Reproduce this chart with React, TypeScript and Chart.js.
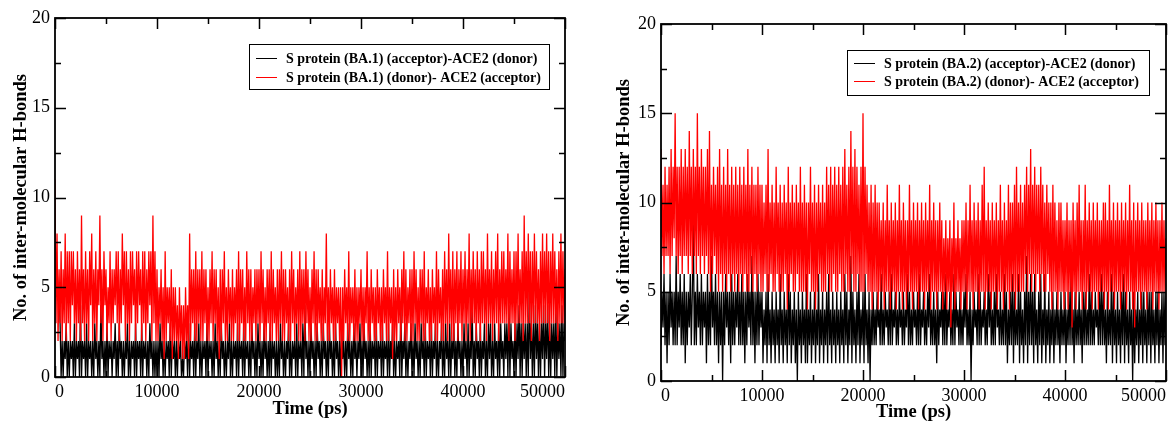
import React, { useEffect, useRef } from "react";
import { Chart, registerables } from "chart.js";

Chart.register(...registerables);

// ---- data (H-bond counts sampled every STEP_PS picoseconds, 20 samples per row) ----
const STEP_PS = 100;
const X_MAX = 50000;
const Y_MAX = 20;

const BA1_ACCEPTOR_ACE2_DONOR = [
  6, 5, 6, 5, 5, 3, 0, 2, 0, 2, 1, 3, 0, 2, 0, 2, 1, 2, 0, 3,
  0, 2, 1, 2, 0, 4, 0, 2, 1, 2, 0, 3, 0, 2, 1, 2, 0, 2, 0, 3,
  1, 2, 0, 2, 0, 4, 1, 2, 0, 2, 0, 3, 0, 2, 1, 2, 0, 2, 1, 3,
  0, 2, 0, 3, 1, 2, 0, 2, 0, 2, 1, 3, 0, 2, 0, 2, 1, 2, 0, 3,
  0, 2, 1, 2, 0, 3, 0, 2, 1, 2, 0, 2, 0, 3, 1, 2, 0, 2, 0, 2,
  0, 2, 0, 3, 1, 2, 0, 2, 0, 2, 1, 2, 0, 3, 0, 2, 1, 2, 0, 2,
  0, 2, 1, 2, 0, 1, 0, 2, 1, 2, 0, 3, 0, 2, 1, 2, 0, 3, 0, 2,
  1, 3, 0, 2, 0, 2, 1, 2, 0, 3, 0, 2, 1, 2, 0, 2, 0, 3, 1, 2,
  0, 2, 0, 3, 1, 2, 0, 2, 0, 2, 1, 3, 0, 2, 0, 2, 1, 2, 0, 3,
  0, 2, 1, 2, 0, 3, 0, 2, 1, 2, 0, 2, 0, 3, 1, 2, 0, 2, 0, 3,
  1, 2, 0, 2, 0, 3, 1, 2, 0, 2, 0, 3, 0, 2, 1, 2, 0, 2, 0, 2,
  0, 3, 1, 2, 0, 2, 0, 2, 1, 3, 0, 2, 0, 2, 1, 2, 0, 3, 0, 2,
  1, 2, 0, 3, 0, 4, 1, 2, 0, 2, 0, 3, 1, 2, 0, 2, 0, 3, 1, 2,
  0, 2, 0, 3, 1, 2, 0, 2, 0, 3, 1, 2, 0, 2, 0, 3, 1, 2, 0, 2,
  0, 3, 1, 2, 0, 2, 0, 3, 1, 2, 0, 2, 0, 3, 1, 2, 0, 2, 1, 3,
  0, 2, 0, 3, 1, 2, 0, 2, 0, 3, 0, 2, 1, 2, 0, 3, 0, 2, 1, 2,
  0, 3, 0, 2, 1, 2, 0, 3, 0, 2, 1, 3, 0, 2, 0, 2, 1, 2, 0, 4,
  0, 2, 1, 3, 0, 2, 0, 2, 1, 3, 0, 2, 0, 3, 1, 2, 0, 2, 0, 3,
  1, 2, 0, 3, 0, 2, 1, 2, 0, 3, 0, 2, 1, 3, 0, 2, 0, 2, 1, 3,
  0, 2, 0, 3, 1, 2, 0, 3, 0, 2, 1, 3, 0, 2, 0, 3, 1, 2, 0, 2,
  0, 3, 1, 2, 0, 3, 0, 2, 1, 4, 0, 2, 0, 3, 1, 2, 0, 3, 0, 2,
  1, 3, 0, 2, 0, 3, 1, 3, 0, 2, 0, 3, 1, 2, 0, 3, 0, 3, 1, 2,
  0, 3, 1, 3, 0, 4, 0, 3, 1, 2, 0, 3, 0, 3, 1, 4, 0, 3, 0, 3,
  1, 3, 0, 3, 0, 5, 1, 3, 0, 3, 0, 4, 1, 3, 0, 3, 0, 3, 1, 4,
  0, 3, 1, 4, 0, 3, 0, 3, 1, 3, 0, 4, 0, 3, 1, 3, 0, 4, 0, 3,
  2,
];

const BA1_DONOR_ACE2_ACCEPTOR = [
  11, 3, 8, 2, 6, 3, 7, 2, 6, 3, 8, 2, 7, 3, 7, 2, 7, 4, 7, 3,
  6, 2, 7, 3, 6, 2, 9, 3, 6, 2, 7, 3, 6, 2, 7, 4, 8, 2, 6, 3,
  7, 2, 6, 4, 9, 3, 6, 2, 7, 4, 6, 2, 5, 3, 7, 2, 6, 3, 6, 4,
  7, 3, 7, 2, 6, 3, 8, 4, 7, 2, 7, 3, 6, 2, 7, 3, 7, 4, 6, 2,
  7, 3, 7, 4, 6, 2, 7, 3, 7, 2, 6, 3, 7, 4, 7, 2, 9, 3, 7, 2,
  6, 2, 5, 3, 6, 2, 5, 1, 7, 2, 5, 3, 5, 2, 6, 1, 5, 2, 5, 2,
  4, 1, 5, 2, 4, 1, 4, 1, 5, 2, 4, 1, 8, 2, 6, 3, 6, 2, 7, 2,
  6, 3, 6, 2, 7, 2, 6, 3, 6, 2, 5, 2, 6, 3, 7, 2, 6, 3, 6, 2,
  5, 1, 6, 2, 6, 3, 7, 2, 5, 2, 6, 3, 5, 2, 6, 2, 5, 3, 6, 2,
  7, 2, 6, 3, 6, 2, 5, 2, 7, 3, 6, 2, 6, 2, 5, 3, 6, 2, 6, 3,
  6, 2, 7, 3, 6, 2, 5, 2, 6, 3, 6, 2, 7, 2, 6, 3, 5, 2, 6, 2,
  6, 3, 7, 2, 6, 2, 6, 3, 5, 2, 6, 2, 7, 3, 6, 2, 5, 3, 6, 2,
  7, 2, 6, 3, 6, 2, 7, 3, 6, 2, 5, 2, 6, 3, 7, 2, 6, 2, 6, 3,
  5, 2, 6, 2, 5, 3, 8, 2, 5, 2, 6, 3, 5, 2, 6, 2, 5, 3, 5, 2,
  5, 0, 5, 2, 6, 3, 5, 2, 7, 2, 5, 3, 5, 2, 6, 2, 5, 2, 5, 3,
  6, 2, 5, 2, 5, 3, 7, 2, 5, 2, 6, 3, 5, 2, 5, 2, 6, 3, 5, 2,
  5, 2, 6, 3, 5, 2, 7, 2, 5, 3, 5, 1, 6, 2, 5, 2, 6, 3, 5, 2,
  6, 3, 7, 2, 6, 2, 5, 3, 6, 2, 6, 2, 7, 3, 6, 2, 5, 2, 6, 3,
  6, 2, 7, 2, 5, 3, 6, 2, 5, 2, 6, 3, 5, 2, 7, 2, 6, 3, 5, 2,
  6, 2, 7, 3, 6, 2, 8, 3, 6, 2, 7, 2, 6, 3, 7, 2, 6, 3, 7, 2,
  6, 3, 7, 2, 6, 3, 8, 2, 6, 3, 7, 3, 6, 2, 7, 3, 6, 2, 7, 3,
  7, 3, 6, 2, 8, 3, 6, 3, 7, 2, 6, 3, 7, 3, 8, 2, 6, 3, 7, 3,
  7, 3, 6, 3, 8, 2, 7, 3, 6, 3, 7, 2, 7, 3, 8, 3, 6, 3, 7, 2,
  9, 3, 7, 3, 8, 3, 7, 2, 7, 3, 8, 3, 7, 3, 6, 2, 7, 3, 8, 3,
  7, 3, 8, 3, 7, 2, 7, 3, 8, 3, 7, 3, 6, 2, 7, 3, 8, 3, 7, 3,
  6,
];

const BA2_ACCEPTOR_ACE2_DONOR = [
  2, 5, 3, 6, 2, 5, 1, 5, 2, 6, 3, 5, 2, 5, 2, 7, 2, 5, 3, 6,
  2, 5, 2, 6, 1, 5, 2, 5, 3, 6, 2, 5, 9, 2, 5, 2, 6, 3, 5, 2,
  6, 2, 5, 3, 5, 1, 6, 2, 5, 2, 7, 3, 5, 2, 6, 2, 5, 1, 5, 2,
  5, 0, 5, 2, 6, 3, 5, 2, 5, 1, 6, 2, 5, 2, 5, 3, 6, 2, 5, 2,
  6, 2, 5, 1, 5, 2, 6, 3, 5, 2, 7, 2, 5, 1, 5, 2, 6, 2, 5, 3,
  5, 1, 4, 2, 5, 1, 6, 2, 4, 1, 5, 2, 4, 1, 5, 2, 4, 1, 6, 2,
  4, 1, 5, 2, 4, 1, 6, 2, 5, 1, 4, 2, 5, 1, 4, 0, 5, 2, 4, 1,
  5, 2, 4, 1, 6, 1, 4, 2, 5, 1, 4, 2, 5, 1, 4, 2, 6, 1, 4, 2,
  5, 1, 4, 2, 5, 1, 6, 2, 4, 1, 5, 2, 4, 1, 5, 2, 4, 1, 5, 2,
  4, 1, 6, 2, 5, 1, 4, 2, 7, 1, 5, 2, 4, 1, 5, 2, 6, 1, 4, 2,
  5, 1, 6, 2, 4, 1, 5, 0, 4, 2, 5, 2, 4, 2, 5, 3, 4, 2, 6, 2,
  4, 2, 5, 3, 4, 2, 5, 2, 6, 2, 4, 3, 5, 2, 4, 2, 5, 3, 4, 2,
  5, 2, 4, 3, 6, 2, 5, 2, 4, 2, 5, 3, 4, 2, 5, 2, 6, 2, 4, 3,
  5, 2, 4, 2, 5, 3, 6, 2, 4, 2, 5, 2, 4, 1, 5, 2, 4, 3, 5, 2,
  5, 2, 6, 2, 4, 3, 5, 2, 4, 2, 6, 2, 5, 3, 4, 2, 5, 2, 4, 2,
  5, 3, 6, 2, 4, 2, 5, 0, 4, 2, 5, 3, 4, 2, 6, 2, 5, 2, 4, 3,
  5, 2, 4, 2, 6, 3, 5, 2, 4, 2, 5, 2, 6, 3, 4, 2, 5, 2, 4, 2,
  6, 2, 5, 1, 4, 2, 5, 2, 6, 1, 5, 2, 4, 2, 6, 1, 5, 2, 4, 1,
  5, 2, 7, 1, 5, 2, 6, 2, 5, 1, 6, 2, 4, 1, 5, 2, 6, 1, 4, 2,
  6, 1, 4, 2, 5, 1, 4, 2, 5, 1, 4, 2, 5, 2, 4, 1, 5, 2, 4, 2,
  5, 1, 4, 2, 5, 2, 6, 2, 4, 1, 5, 2, 4, 2, 5, 2, 4, 1, 5, 2,
  5, 2, 4, 2, 6, 2, 5, 2, 4, 2, 5, 3, 4, 2, 5, 2, 6, 2, 5, 2,
  4, 1, 5, 2, 4, 2, 6, 1, 5, 2, 4, 1, 5, 2, 4, 1, 5, 2, 6, 1,
  5, 2, 4, 1, 5, 2, 4, 0, 5, 1, 4, 2, 5, 1, 4, 2, 5, 1, 5, 2,
  4, 1, 5, 2, 5, 1, 5, 2, 4, 1, 5, 2, 5, 1, 4, 2, 5, 1, 5, 2,
  5,
];

const BA2_DONOR_ACE2_ACCEPTOR = [
  13, 7, 11, 6, 12, 7, 11, 7, 12, 6, 13, 7, 12, 8, 15, 7, 12, 6, 12, 7,
  13, 6, 12, 7, 13, 7, 12, 6, 14, 7, 12, 6, 13, 7, 12, 6, 15, 7, 12, 6,
  13, 7, 12, 6, 12, 7, 13, 6, 14, 5, 11, 6, 12, 7, 11, 6, 12, 5, 13, 6,
  11, 5, 12, 6, 11, 5, 13, 6, 11, 5, 12, 6, 11, 5, 12, 6, 11, 5, 12, 6,
  11, 5, 12, 6, 11, 5, 13, 5, 11, 6, 12, 5, 11, 6, 11, 5, 12, 6, 11, 5,
  11, 5, 10, 6, 11, 5, 13, 5, 10, 6, 11, 5, 10, 5, 12, 6, 10, 5, 11, 5,
  10, 5, 11, 6, 10, 4, 12, 5, 10, 6, 11, 5, 10, 5, 11, 6, 10, 5, 12, 5,
  10, 5, 11, 5, 10, 4, 10, 6, 12, 5, 10, 5, 11, 4, 10, 5, 11, 6, 10, 5,
  11, 5, 10, 5, 12, 6, 11, 5, 12, 5, 11, 6, 12, 5, 11, 5, 12, 6, 11, 5,
  12, 5, 13, 6, 11, 5, 12, 5, 14, 6, 12, 5, 13, 5, 12, 6, 11, 5, 12, 5,
  15, 5, 12, 6, 11, 5, 10, 5, 11, 4, 10, 5, 11, 5, 10, 4, 10, 5, 9, 5,
  10, 4, 9, 5, 11, 5, 9, 4, 10, 5, 9, 5, 10, 4, 9, 5, 11, 5, 9, 4,
  10, 5, 9, 4, 9, 5, 11, 5, 9, 4, 10, 5, 9, 5, 10, 4, 9, 5, 10, 5,
  9, 4, 10, 5, 9, 5, 11, 4, 9, 5, 10, 5, 9, 4, 9, 5, 10, 5, 9, 4,
  8, 5, 9, 4, 8, 5, 9, 3, 8, 5, 10, 4, 8, 5, 9, 5, 8, 4, 9, 5,
  9, 5, 10, 4, 9, 5, 11, 5, 9, 4, 10, 5, 9, 5, 10, 4, 9, 5, 11, 5,
  12, 4, 9, 5, 10, 5, 9, 4, 10, 5, 9, 5, 10, 4, 9, 5, 11, 5, 9, 4,
  10, 5, 9, 5, 11, 4, 10, 5, 10, 5, 11, 4, 12, 5, 10, 5, 11, 5, 10, 5,
  11, 6, 12, 5, 11, 6, 13, 5, 11, 6, 12, 5, 11, 6, 11, 5, 12, 6, 11, 5,
  10, 5, 11, 6, 10, 5, 10, 4, 11, 5, 10, 5, 9, 4, 10, 5, 10, 5, 9, 4,
  9, 5, 10, 4, 9, 5, 9, 3, 10, 5, 9, 4, 10, 5, 11, 5, 9, 4, 9, 5,
  11, 4, 9, 5, 10, 5, 9, 4, 10, 5, 9, 5, 10, 4, 9, 5, 9, 5, 10, 4,
  10, 5, 9, 4, 11, 5, 9, 5, 10, 4, 9, 5, 10, 5, 9, 4, 10, 5, 9, 5,
  10, 4, 9, 5, 11, 5, 9, 4, 10, 3, 9, 5, 10, 5, 9, 4, 10, 5, 9, 5,
  9, 4, 10, 5, 9, 5, 10, 4, 9, 5, 10, 5, 9, 4, 9, 5, 10, 5, 9, 5,
  8,
];

const X_TICKS = [0, 10000, 20000, 30000, 40000, 50000];
const Y_TICKS = [0, 5, 10, 15, 20];

const LEGEND_BA1 = [
  "S protein (BA.1) (acceptor)-ACE2 (donor)",
  "S protein (BA.1) (donor)- ACE2 (acceptor)",
];
const LEGEND_BA2 = [
  "S protein (BA.2) (acceptor)-ACE2 (donor)",
  "S protein (BA.2) (donor)- ACE2 (acceptor)",
];
const X_TITLE = "Time (ps)";
const Y_TITLE = "No. of inter-molecular H-bonds";

const SERIES_COLORS = ["#000000", "#ff0000"];
const FONT = "'Liberation Serif', 'Times New Roman', Times, serif";

type PanelCfg = {
  left: number;
  width: number;
  padTop: number;
  padRight: number;
  yAxisWidth: number;
  xAxisHeight: number;
  yTitlePad: number;
  xTitlePad: number;
  legend: { x: number; y: number; w: number; h: number; row1: number; row2: number };
  labels: string[];
  series: number[][];
};

const toPoints = (arr: number[]) => arr.map((v, i) => ({ x: i * STEP_PS, y: v }));

function makeFramePlugin() {
  return {
    id: "frameTicks",
    afterDatasetsDraw(chart: any) {
      const { ctx, chartArea: a, scales } = chart;
      const x = scales.x;
      const y = scales.y;
      ctx.save();
      ctx.strokeStyle = "#000";
      ctx.lineWidth = 1.5;
      ctx.beginPath();
      for (let v = 0; v <= X_MAX; v += 5000) {
        const px = Math.round(x.getPixelForValue(v)) + 0.5;
        const len = v % 10000 === 0 ? 11 : 6;
        ctx.moveTo(px, a.bottom);
        ctx.lineTo(px, a.bottom - len);
        ctx.moveTo(px, a.top);
        ctx.lineTo(px, a.top + len);
      }
      for (let v = 0; v <= Y_MAX; v += 2.5) {
        const py = Math.round(y.getPixelForValue(v)) + 0.5;
        const len = v % 5 === 0 ? 11 : 6;
        ctx.moveTo(a.left, py);
        ctx.lineTo(a.left + len, py);
        ctx.moveTo(a.right, py);
        ctx.lineTo(a.right - len, py);
      }
      ctx.stroke();
      ctx.lineWidth = 1.8;
      ctx.strokeRect(a.left, a.top, a.right - a.left, a.bottom - a.top);
      ctx.restore();
    },
  };
}

function makeLegendPlugin(cfg: PanelCfg) {
  return {
    id: "boxLegend",
    afterDraw(chart: any) {
      const { ctx } = chart;
      const L = cfg.legend;
      ctx.save();
      ctx.fillStyle = "#fff";
      ctx.fillRect(L.x, L.y, L.w, L.h);
      ctx.strokeStyle = "#000";
      ctx.lineWidth = 1;
      ctx.strokeRect(L.x + 0.5, L.y + 0.5, L.w, L.h);
      const rows = [L.row1, L.row2];
      ctx.font = `bold 14px ${FONT}`;
      ctx.textBaseline = "middle";
      ctx.textAlign = "left";
      rows.forEach((ry, i) => {
        ctx.strokeStyle = SERIES_COLORS[i];
        ctx.lineWidth = 1;
        ctx.beginPath();
        ctx.moveTo(L.x + 7, ry + 0.5);
        ctx.lineTo(L.x + 28, ry + 0.5);
        ctx.stroke();
        ctx.fillStyle = "#000";
        ctx.fillText(cfg.labels[i], L.x + 37, ry + 1);
      });
      ctx.restore();
    },
  };
}

function Panel({ cfg }: { cfg: PanelCfg }) {
  const ref = useRef<HTMLCanvasElement | null>(null);
  useEffect(() => {
    if (!ref.current) return;
    const chart = new Chart(ref.current, {
      type: "line",
      data: {
        datasets: [
          {
            label: cfg.labels[0],
            data: toPoints(cfg.series[0]),
            borderColor: SERIES_COLORS[0],
            borderWidth: 1.3,
            pointRadius: 0,
            tension: 0,
            order: 2,
          },
          {
            label: cfg.labels[1],
            data: toPoints(cfg.series[1]),
            borderColor: SERIES_COLORS[1],
            borderWidth: 1.3,
            pointRadius: 0,
            tension: 0,
            order: 1,
          },
        ],
      },
      options: {
        responsive: false,
        animation: false,
        devicePixelRatio: 1,
        layout: { padding: { left: 0, right: cfg.padRight, top: cfg.padTop, bottom: 0 } },
        plugins: { legend: { display: false }, tooltip: { enabled: false } },
        scales: {
          x: {
            type: "linear",
            min: 0,
            max: X_MAX,
            grid: { display: false, drawTicks: false },
            border: { display: false },
            afterBuildTicks: (s: any) => {
              s.ticks = X_TICKS.map((v) => ({ value: v }));
            },
            ticks: {
              maxRotation: 0,
              autoSkip: false,
              align: "inner",
              padding: 4,
              color: "#000",
              font: { family: FONT, size: 18 },
              callback: (v: any) => String(v),
            },
            title: {
              display: true,
              text: X_TITLE,
              color: "#000",
              font: { family: FONT, size: 18.5, weight: "bold" },
              padding: { top: 0, bottom: cfg.xTitlePad },
            },
            afterFit: (s: any) => {
              s.height = cfg.xAxisHeight;
              s.paddingLeft = 0;
              s.paddingRight = 0;
            },
          },
          y: {
            type: "linear",
            min: 0,
            max: Y_MAX,
            grid: { display: false, drawTicks: false },
            border: { display: false },
            afterBuildTicks: (s: any) => {
              s.ticks = Y_TICKS.map((v) => ({ value: v }));
            },
            ticks: {
              padding: 5,
              color: "#000",
              font: { family: FONT, size: 18 },
              callback: (v: any) => String(v),
            },
            title: {
              display: true,
              text: Y_TITLE,
              color: "#000",
              font: { family: FONT, size: 18.5, weight: "bold" },
              padding: { top: cfg.yTitlePad, bottom: 0 },
            },
            afterFit: (s: any) => {
              s.width = cfg.yAxisWidth;
              s.paddingTop = 0;
              s.paddingBottom = 0;
            },
          },
        },
      },
      plugins: [makeFramePlugin(), makeLegendPlugin(cfg)],
    } as any);
    return () => chart.destroy();
  }, [cfg]);
  return (
    <canvas
      ref={ref}
      width={cfg.width}
      height={421}
      style={{ position: "absolute", left: cfg.left, top: 0, width: cfg.width, height: 421 }}
    />
  );
}

const LEFT_PANEL: PanelCfg = {
  left: 0,
  width: 588,
  padTop: 18,
  padRight: 23,
  yAxisWidth: 55,
  xAxisHeight: 44,
  yTitlePad: 10,
  xTitlePad: 1,
  legend: { x: 249, y: 44, w: 300, h: 45, row1: 58, row2: 77 },
  labels: LEGEND_BA1,
  series: [BA1_ACCEPTOR_ACE2_DONOR, BA1_DONOR_ACE2_ACCEPTOR],
};

const RIGHT_PANEL: PanelCfg = {
  left: 588,
  width: 588,
  padTop: 24,
  padRight: 10,
  yAxisWidth: 73,
  xAxisHeight: 40,
  yTitlePad: 25,
  xTitlePad: -2,
  legend: { x: 259, y: 50, w: 302, h: 45, row1: 63, row2: 81 },
  labels: LEGEND_BA2,
  series: [BA2_ACCEPTOR_ACE2_DONOR, BA2_DONOR_ACE2_ACCEPTOR],
};

export default function App() {
  return (
    <div
      style={{
        position: "fixed",
        left: 0,
        top: 0,
        width: 1176,
        height: 421,
        background: "#fff",
        overflow: "hidden",
      }}
    >
      <Panel cfg={LEFT_PANEL} />
      <Panel cfg={RIGHT_PANEL} />
    </div>
  );
}
